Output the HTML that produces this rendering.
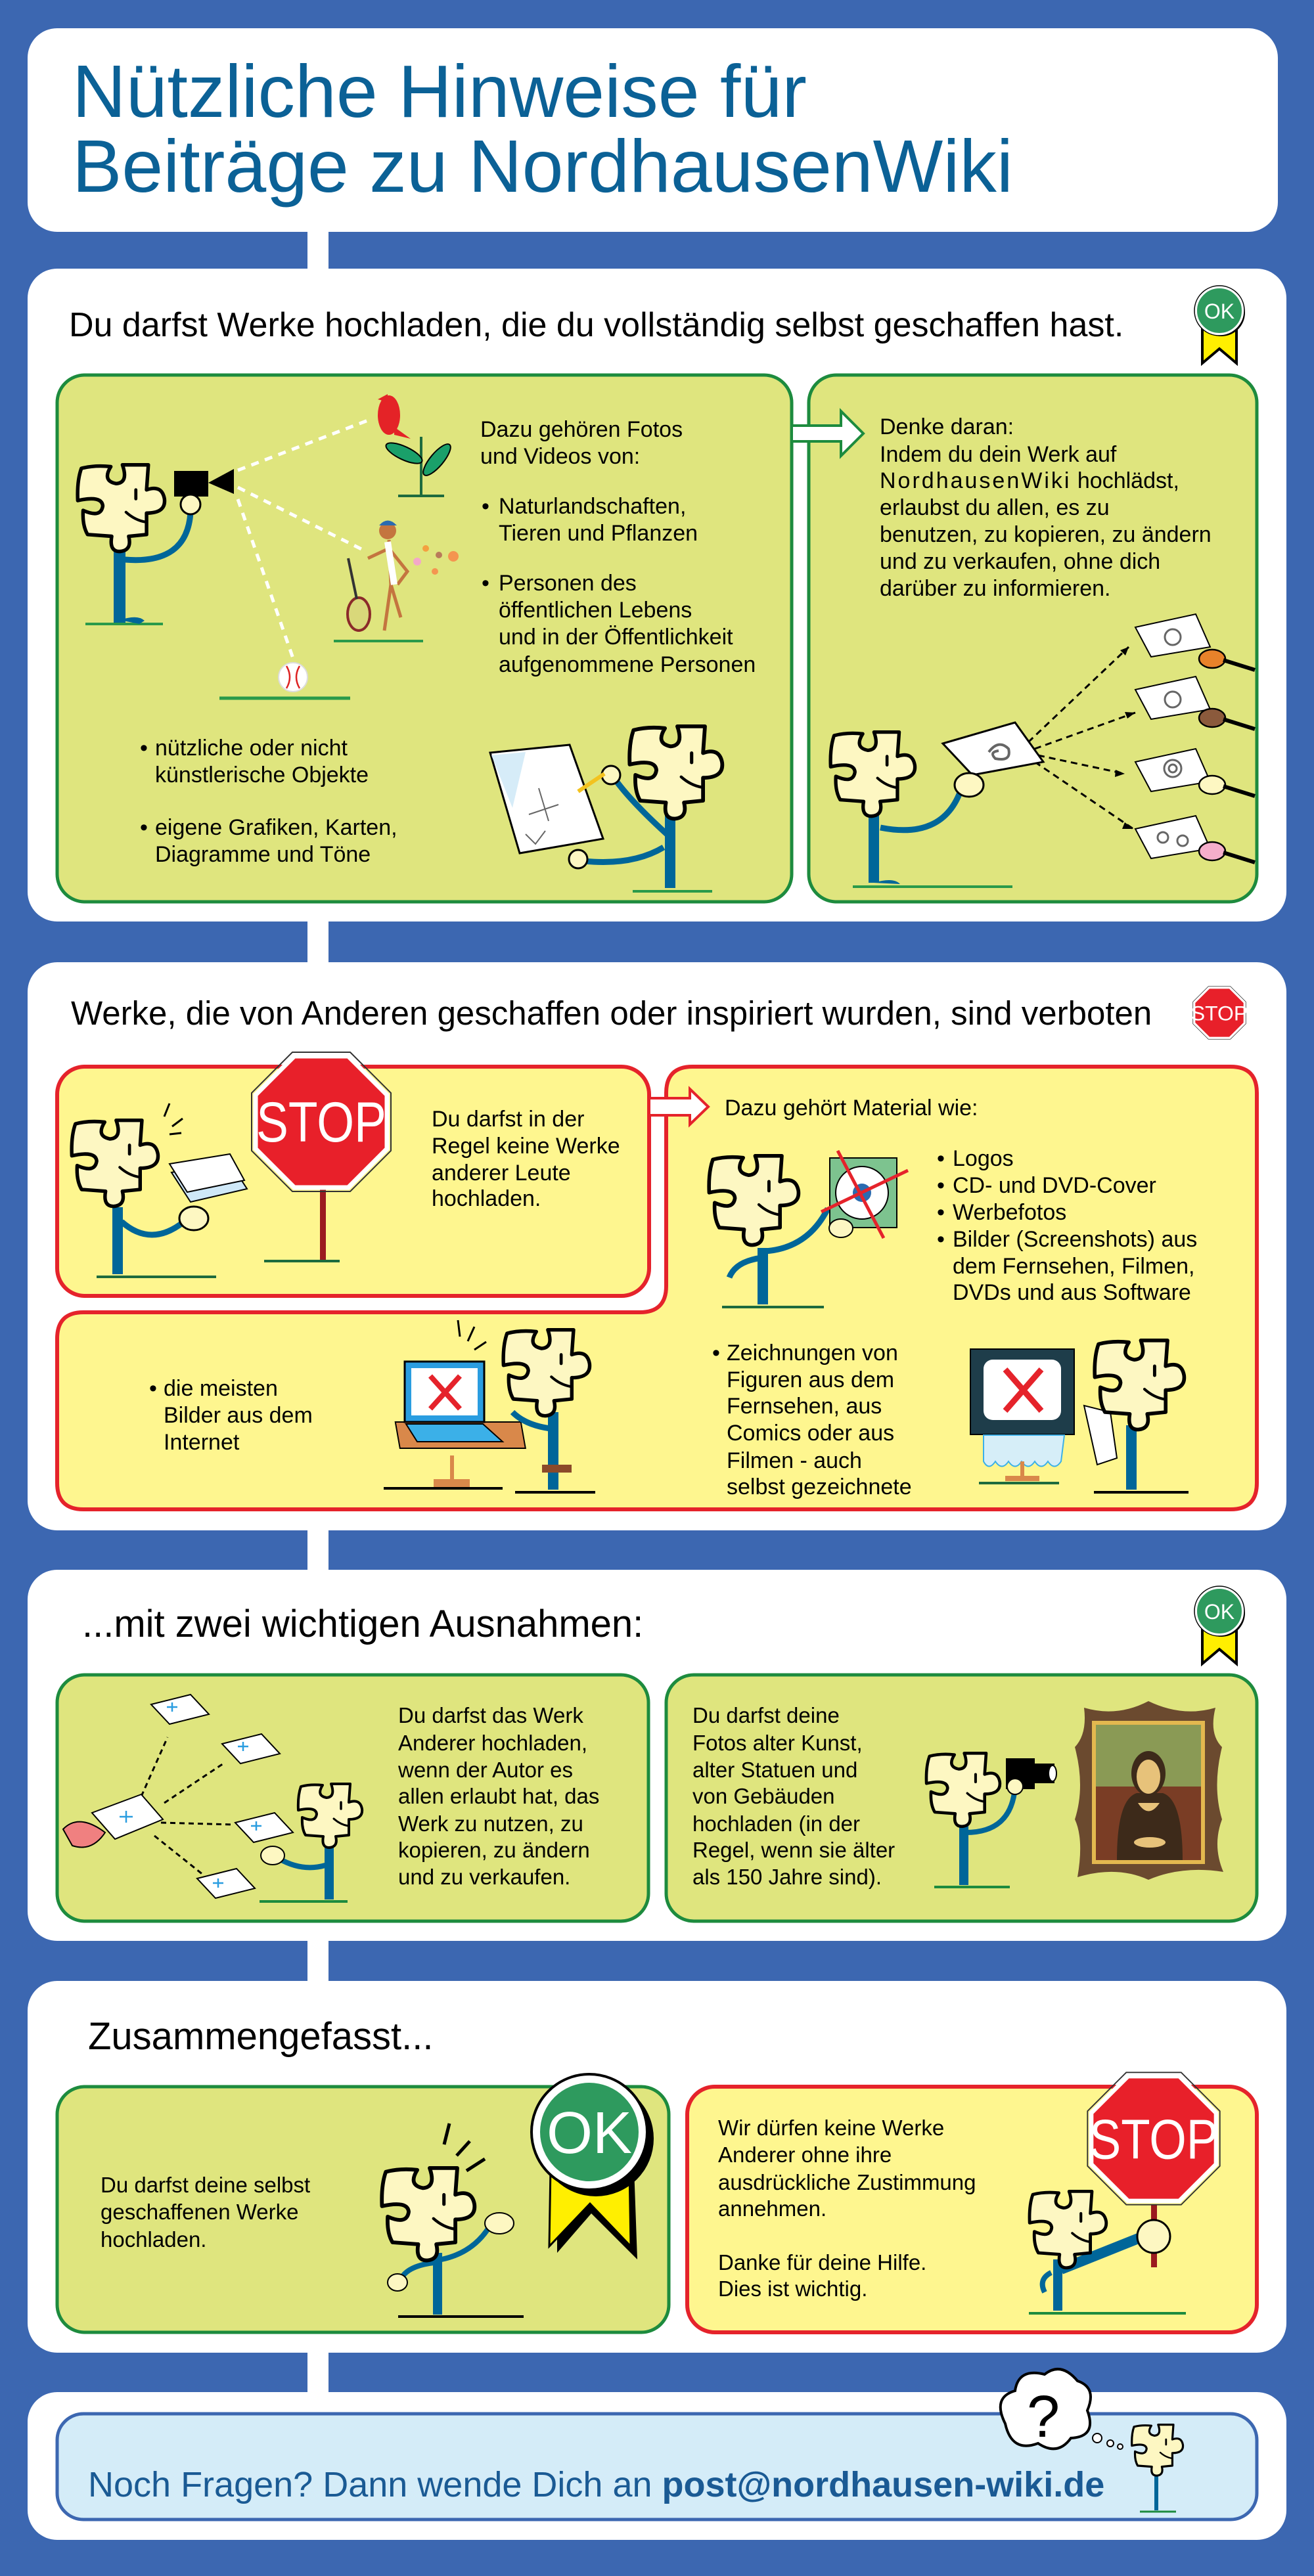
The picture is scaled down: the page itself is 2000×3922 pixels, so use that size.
<!DOCTYPE html>
<html><head><meta charset="utf-8"><style>
html,body{margin:0;padding:0;background:#3c67b1;}
svg{display:block;}
text{font-family:"Liberation Sans","DejaVu Sans",sans-serif;}
</style></head><body>
<svg width="2000" height="3922" viewBox="0 0 2000 3922" xmlns="http://www.w3.org/2000/svg">
<defs>
<g id="pz">
<path d="M5,6 Q20,2 38,4 Q28,20 44,23 Q58,22 51,2 L80,2 L78,30 Q95,24 98,40 Q100,56 78,56 L78,80 L58,82 Q62,98 48,99 Q36,99 39,82 L12,80 Q6,70 7,53 Q27,62 29,48 Q28,36 1,42 Q0,20 5,6 Z" fill="#fdf7c2" stroke="#000" stroke-width="4" stroke-linejoin="round"/>
<path d="M66,30 V40" stroke="#000" stroke-width="3.5" stroke-linecap="round"/>
<path d="M55,55 Q65,64 77,66" fill="none" stroke="#000" stroke-width="3" stroke-linecap="round"/>
</g>
<g id="ok">
<polygon points="-26,20 -26,80 0,58 26,80 26,20" fill="#ffef00" stroke="#000" stroke-width="4"/>
<circle cx="3" cy="3" r="36" fill="#000"/>
<circle r="36" fill="#2e9a5e" stroke="#fff" stroke-width="4"/>
<circle r="38" fill="none" stroke="#000" stroke-width="1.5"/>
<text x="0" y="12" font-size="32" fill="#fff" text-anchor="middle">OK</text>
</g>
<g id="oct">
<polygon points="-41,-100 41,-100 100,-41 100,41 41,100 -41,100 -100,41 -100,-41" fill="#e8202a" stroke="#fff" stroke-width="7"/>
<polygon points="-44,-106 44,-106 106,-44 106,44 44,106 -44,106 -106,44 -106,-44" fill="none" stroke="#333" stroke-width="2"/>
</g>
</defs>

<!-- Title panel -->
<rect x="42" y="43" width="1903" height="310" rx="45" fill="#fff"/>
<text x="110" y="178" font-size="113" fill="#0b6196">Nützliche Hinweise für</text>
<text x="110" y="292" font-size="113" fill="#0b6196">Beiträge zu NordhausenWiki</text>
<rect x="468" y="350" width="32" height="62" fill="#fff"/>

<!-- Section 1 -->
<rect x="42" y="409" width="1916" height="994" rx="45" fill="#fff"/>
<text x="105" y="512" font-size="52" fill="#000">Du darfst Werke hochladen, die du vollständig selbst geschaffen hast.</text>
<use href="#ok" transform="translate(1856,473)"/>
<rect x="87" y="571" width="1118" height="802" rx="42" fill="#dfe57e" stroke="#1d8b3e" stroke-width="5"/>
<rect x="1231" y="571" width="682" height="802" rx="42" fill="#dfe57e" stroke="#1d8b3e" stroke-width="5"/>
<polygon points="1205,648 1280,648 1280,626 1314,660 1280,694 1280,672 1205,672" fill="#fff" stroke="#1d8b3e" stroke-width="4"/>

<path d="M362,716 L560,640 M362,742 L550,836 M362,760 L447,1005" stroke="#fff" stroke-width="5" stroke-dasharray="12 10" fill="none"/>
<line x1="130" y1="950" x2="248" y2="950" stroke="#2a9a4a" stroke-width="4"/>
<path d="M182,840 V948" stroke="#006699" stroke-width="18"/>
<path d="M182,944 Q210,935 220,945 L212,950 Z" fill="#006699"/>
<path d="M190,852 Q285,860 290,780" fill="none" stroke="#006699" stroke-width="9"/>
<rect x="265" y="717" width="52" height="39" fill="#000"/>
<polygon points="317,735 356,714 356,752" fill="#000"/>
<circle cx="290" cy="768" r="15" fill="#fdf7c2" stroke="#000" stroke-width="3"/>
<use href="#pz" transform="translate(117,705) scale(1.36)"/>
<ellipse cx="592" cy="632" rx="17" ry="30" fill="#e42327"/>
<polygon points="590,600 575,608 590,612" fill="#e42327"/>
<polygon points="600,650 625,668 600,662" fill="#e42327"/>
<path d="M641,665 V755" stroke="#1d6b3e" stroke-width="4"/>
<ellipse cx="615" cy="690" rx="30" ry="10" fill="#1aa06a" stroke="#000" stroke-width="2" transform="rotate(25 615 690)"/>
<ellipse cx="665" cy="700" rx="30" ry="10" fill="#1aa06a" stroke="#000" stroke-width="2" transform="rotate(-50 665 700)"/>
<line x1="606" y1="755" x2="676" y2="755" stroke="#1d6b3e" stroke-width="4"/>
<circle cx="590" cy="808" r="13" fill="#c4753f"/>
<path d="M577,800 Q590,785 604,800 Z" fill="#2a6bb0"/>
<path d="M592,822 L595,890 L585,960 M595,890 L610,940 M592,835 L620,870 L605,890 M592,835 L560,850" stroke="#c4753f" stroke-width="5" fill="none"/>
<path d="M590,825 L600,890" stroke="#fff" stroke-width="10"/>
<ellipse cx="546" cy="935" rx="17" ry="25" fill="#d9d87a" stroke="#8b2a2a" stroke-width="4"/>
<line x1="530" y1="850" x2="543" y2="912" stroke="#333" stroke-width="4"/>
<circle cx="648" cy="835" r="5" fill="#f4a040"/><circle cx="668" cy="845" r="5" fill="#b97b5a"/><circle cx="635" cy="855" r="6" fill="#f3a9c8"/><circle cx="690" cy="847" r="8" fill="#f49550"/><circle cx="662" cy="870" r="5" fill="#f49550"/>
<line x1="508" y1="976" x2="644" y2="976" stroke="#2a9a4a" stroke-width="4"/>
<circle cx="446" cy="1031" r="22" fill="#fff" stroke="#ddd" stroke-width="2"/>
<path d="M436,1014 Q446,1031 436,1048 M456,1014 Q446,1031 456,1048" stroke="#d22" stroke-width="2.5" fill="none"/>
<line x1="334" y1="1063" x2="533" y2="1063" stroke="#2a9a4a" stroke-width="5"/>

<g font-size="34" fill="#000">
<text x="731" y="665">Dazu gehören Fotos</text>
<text x="731" y="706">und Videos von:</text>
<text x="733" y="782">•</text><text x="759" y="782">Naturlandschaften,</text>
<text x="759" y="823">Tieren und Pflanzen</text>
<text x="733" y="899">•</text><text x="759" y="899">Personen des</text>
<text x="759" y="940">öffentlichen Lebens</text>
<text x="759" y="981">und in der Öffentlichkeit</text>
<text x="759" y="1023">aufgenommene Personen</text>
<text x="213" y="1150">•</text><text x="236" y="1150">nützliche oder nicht</text>
<text x="236" y="1191">künstlerische Objekte</text>
<text x="213" y="1271">•</text><text x="236" y="1271">eigene Grafiken, Karten,</text>
<text x="236" y="1312">Diagramme und Töne</text>
</g>
<polygon points="746,1146 867,1134 918,1277 791,1299" fill="#fff" stroke="#000" stroke-width="3"/>
<polygon points="748,1150 800,1145 780,1230" fill="#d6ecf8"/>
<path d="M820,1200 L835,1250 M805,1240 L850,1225 M800,1270 L815,1285 L830,1265" stroke="#666" stroke-width="2" fill="none"/>
<line x1="963" y1="1357" x2="1084" y2="1357" stroke="#2a9a4a" stroke-width="4"/>
<path d="M1020,1240 V1352" stroke="#006699" stroke-width="16"/>
<path d="M1010,1290 Q960,1320 880,1310 M1015,1270 Q960,1220 935,1185" fill="none" stroke="#006699" stroke-width="9"/>
<circle cx="880" cy="1308" r="14" fill="#fdf7c2" stroke="#000" stroke-width="3"/>
<circle cx="930" cy="1180" r="14" fill="#fdf7c2" stroke="#000" stroke-width="3"/>
<line x1="920" y1="1178" x2="880" y2="1205" stroke="#f3c21e" stroke-width="6"/>
<use href="#pz" transform="translate(957,1103) scale(1.45)"/>

<g font-size="34" fill="#000">
<text x="1339" y="661">Denke daran:</text>
<text x="1339" y="703">Indem du dein Werk auf</text>
<text x="1339" y="743"><tspan letter-spacing="3">NordhausenWiki</tspan> hochlädst,</text>
<text x="1339" y="784">erlaubst du allen, es zu</text>
<text x="1339" y="825">benutzen, zu kopieren, zu ändern</text>
<text x="1339" y="866">und zu verkaufen, ohne dich</text>
<text x="1339" y="907">darüber zu informieren.</text>
</g>
<path d="M1565,1130 L1718,985 M1575,1140 L1728,1085 M1580,1150 L1712,1178 M1575,1160 L1725,1262" stroke="#000" stroke-width="3" stroke-dasharray="10 7"/>
<polygon points="1718,985 1705,990 1713,998" fill="#000"/><polygon points="1728,1085 1712,1084 1716,1094" fill="#000"/><polygon points="1712,1178 1698,1172 1697,1183" fill="#000"/><polygon points="1725,1262 1712,1252 1708,1262" fill="#000"/>
<polygon points="1728,955 1820,935 1842,985 1752,1000" fill="#fff" stroke="#000" stroke-width="2"/>
<polygon points="1728,1050 1820,1030 1842,1080 1752,1095" fill="#fff" stroke="#000" stroke-width="2"/>
<polygon points="1728,1160 1820,1140 1842,1190 1752,1205" fill="#fff" stroke="#000" stroke-width="2"/>
<polygon points="1728,1262 1820,1242 1842,1292 1752,1307" fill="#fff" stroke="#000" stroke-width="2"/>
<g fill="none" stroke="#666" stroke-width="3"><circle cx="1785" cy="970" r="12"/><circle cx="1785" cy="1065" r="12"/><circle cx="1785" cy="1170" r="13"/><circle cx="1785" cy="1170" r="6"/><circle cx="1770" cy="1275" r="8"/><circle cx="1800" cy="1280" r="8"/></g>
<g stroke="#000" stroke-width="2.5"><ellipse cx="1845" cy="1003" rx="20" ry="14" fill="#e8822a"/><ellipse cx="1845" cy="1093" rx="20" ry="14" fill="#8b5a3c"/><ellipse cx="1845" cy="1195" rx="20" ry="14" fill="#fdf7c2"/><ellipse cx="1845" cy="1296" rx="20" ry="14" fill="#f5aecb"/></g>
<g stroke="#000" stroke-width="6"><line x1="1862" y1="1005" x2="1910" y2="1020"/><line x1="1862" y1="1095" x2="1910" y2="1110"/><line x1="1862" y1="1197" x2="1910" y2="1212"/><line x1="1862" y1="1298" x2="1910" y2="1313"/></g>
<polygon points="1435,1132 1545,1100 1588,1160 1480,1180" fill="#fff" stroke="#000" stroke-width="3"/>
<path d="M1505,1145 q15,-20 30,-5 q5,20 -20,15 q-10,-10 5,-12" fill="none" stroke="#666" stroke-width="4"/>
<line x1="1298" y1="1350" x2="1541" y2="1350" stroke="#2a9a4a" stroke-width="4"/>
<path d="M1330,1238 V1344" stroke="#006699" stroke-width="16"/>
<path d="M1330,1344 Q1360,1335 1370,1346 Z" fill="#006699"/>
<path d="M1340,1260 Q1440,1280 1465,1195" fill="none" stroke="#006699" stroke-width="9"/>
<ellipse cx="1475" cy="1195" rx="22" ry="18" fill="#fdf7c2" stroke="#000" stroke-width="3"/>
<use href="#pz" transform="translate(1263,1112) scale(1.32)"/>
<rect x="468" y="1400" width="32" height="66" fill="#fff"/>

<!-- Section 2 -->
<rect x="42" y="1465" width="1916" height="865" rx="45" fill="#fff"/>
<text x="108" y="1560" font-size="51" fill="#000">Werke, die von Anderen geschaffen oder inspiriert wurden, sind verboten</text>
<g transform="translate(1856,1542) scale(0.38)"><use href="#oct"/><text x="0" y="30" font-size="84" fill="#fff" text-anchor="middle">STOP</text></g>
<rect x="87" y="1624" width="901" height="349" rx="42" fill="#fef68f" stroke="#e5232b" stroke-width="6"/>
<path d="M1054,1624 H1873 Q1913,1624 1913,1664 V2258 Q1913,2298 1873,2298 H127 Q87,2298 87,2258 V2038 Q87,1998 127,1998 H974 Q1014,1998 1014,1958 V1664 Q1014,1624 1054,1624 Z" fill="#fef68f" stroke="#e5232b" stroke-width="6"/>
<polygon points="988,1672 1050,1672 1050,1658 1078,1685 1050,1712 1050,1698 988,1698" fill="#fff" stroke="#e5232b" stroke-width="4"/>
<line x1="147" y1="1944" x2="329" y2="1944" stroke="#1d6b3e" stroke-width="4"/>
<path d="M179,1838 V1940" stroke="#006699" stroke-width="16"/>
<path d="M185,1860 Q230,1900 280,1860" fill="none" stroke="#006699" stroke-width="9"/>
<polygon points="261,1785 350,1770 376,1810 290,1830" fill="#cfe8f8" stroke="#000" stroke-width="2"/>
<polygon points="258,1772 350,1757 372,1797 285,1815" fill="#fff" stroke="#000" stroke-width="2"/>
<ellipse cx="295" cy="1855" rx="22" ry="18" fill="#fdf7c2" stroke="#000" stroke-width="3"/>
<path d="M250,1700 l8,-20 M262,1715 l16,-12 M258,1727 l18,-2" stroke="#000" stroke-width="3"/>
<use href="#pz" transform="translate(108,1703) scale(1.35)"/>
<rect x="487" y="1808" width="9" height="112" fill="#9b1b1f"/>
<line x1="402" y1="1920" x2="517" y2="1920" stroke="#1d6b3e" stroke-width="4"/>
<g transform="translate(489,1708)"><use href="#oct"/><text x="0" y="30" font-size="86" fill="#fff" text-anchor="middle" transform="scale(0.85,1)">STOP</text></g>
<g font-size="34" fill="#000">
<text x="657" y="1715">Du darfst in der</text>
<text x="657" y="1756">Regel keine Werke</text>
<text x="657" y="1797">anderer Leute</text>
<text x="657" y="1836">hochladen.</text>
<text x="1103" y="1698">Dazu gehört Material wie:</text>
<text x="1426" y="1775">•</text><text x="1450" y="1775">Logos</text>
<text x="1426" y="1816">•</text><text x="1450" y="1816">CD- und DVD-Cover</text>
<text x="1426" y="1857">•</text><text x="1450" y="1857">Werbefotos</text>
<text x="1426" y="1898">•</text><text x="1450" y="1898">Bilder (Screenshots) aus</text>
<text x="1450" y="1939">dem Fernsehen, Filmen,</text>
<text x="1450" y="1979">DVDs und aus Software</text>
<text x="227" y="2125">•</text><text x="249" y="2125">die meisten</text>
<text x="249" y="2166">Bilder aus dem</text>
<text x="249" y="2207">Internet</text>
<text x="1084" y="2071">•</text><text x="1106" y="2071">Zeichnungen von</text>
<text x="1106" y="2112">Figuren aus dem</text>
<text x="1106" y="2152">Fernsehen, aus</text>
<text x="1106" y="2193">Comics oder aus</text>
<text x="1106" y="2235">Filmen - auch</text>
<text x="1106" y="2275">selbst gezeichnete</text>
</g>
<line x1="1099" y1="1990" x2="1254" y2="1990" stroke="#1d6b3e" stroke-width="4"/>
<path d="M1161,1900 V1986" stroke="#006699" stroke-width="16"/>
<path d="M1165,1905 Q1230,1900 1260,1840 M1160,1915 Q1120,1920 1110,1945" fill="none" stroke="#006699" stroke-width="9"/>
<rect x="1263" y="1763" width="102" height="106" fill="#7dc38f" stroke="#000" stroke-width="2"/>
<circle cx="1312" cy="1816" r="40" fill="#fff" stroke="#000" stroke-width="2"/>
<circle cx="1312" cy="1816" r="14" fill="#2a6bb0"/>
<path d="M1275,1752 L1345,1885 M1250,1845 L1382,1782" stroke="#e5232b" stroke-width="5"/>
<ellipse cx="1280" cy="1870" rx="18" ry="14" fill="#fdf7c2" stroke="#000" stroke-width="2"/>
<use href="#pz" transform="translate(1078,1757) scale(1.4)"/>
<rect x="600" y="2165" width="191" height="40" fill="#d9884a" stroke="#000" stroke-width="2" transform="skewX(10) translate(-380,0)"/>
<rect x="616" y="2073" width="121" height="92" fill="#2a9de0" stroke="#000" stroke-width="3"/>
<rect x="626" y="2083" width="101" height="72" fill="#fff"/>
<path d="M655,2095 L700,2145 M700,2095 L655,2145" stroke="#e5232b" stroke-width="8"/>
<polygon points="618,2168 735,2168 765,2195 635,2195" fill="#3bb0e8" stroke="#000" stroke-width="2"/>
<rect x="685" y="2216" width="6" height="40" fill="#d9884a"/>
<rect x="660" y="2252" width="55" height="12" fill="#d9884a"/>
<line x1="584" y1="2266" x2="765" y2="2266" stroke="#000" stroke-width="4"/>
<path d="M842,2150 V2268" stroke="#006699" stroke-width="16"/>
<path d="M838,2175 Q800,2170 780,2150" fill="none" stroke="#006699" stroke-width="9"/>
<rect x="825" y="2230" width="45" height="12" fill="#8b4a2a"/>
<line x1="784" y1="2272" x2="906" y2="2272" stroke="#000" stroke-width="4"/>
<path d="M700,2035 l-3,-25 M712,2042 l10,-22 M722,2055 l18,-12" stroke="#000" stroke-width="3"/>
<use href="#pz" transform="translate(765,2022) scale(1.35)"/>
<rect x="1477" y="2054" width="158" height="130" fill="#1e3d4a" stroke="#000" stroke-width="2"/>
<rect x="1497" y="2070" width="118" height="92" rx="14" fill="#fff"/>
<path d="M1530,2085 L1585,2148 M1585,2085 L1530,2148" stroke="#e5232b" stroke-width="9"/>
<path d="M1497,2185 H1620 L1615,2225 Q1605,2240 1595,2225 Q1585,2240 1575,2225 Q1565,2240 1555,2225 Q1545,2240 1535,2225 Q1525,2240 1515,2225 Q1505,2240 1497,2225 Z" fill="#d6eef8" stroke="#3bb0e8" stroke-width="2"/>
<rect x="1553" y="2225" width="6" height="25" fill="#d9884a"/>
<rect x="1530" y="2247" width="52" height="8" fill="#d9884a"/>
<line x1="1490" y1="2258" x2="1612" y2="2258" stroke="#1d6b3e" stroke-width="4"/>
<polygon points="1650,2140 1690,2150 1700,2220 1670,2230" fill="#fff" stroke="#000" stroke-width="2"/>
<path d="M1722,2170 V2268" stroke="#006699" stroke-width="16"/>
<line x1="1665" y1="2272" x2="1809" y2="2272" stroke="#000" stroke-width="4"/>
<use href="#pz" transform="translate(1665,2038) scale(1.4)"/>
<rect x="468" y="2328" width="32" height="64" fill="#fff"/>

<!-- Section 3 -->
<rect x="42" y="2390" width="1916" height="565" rx="45" fill="#fff"/>
<text x="125" y="2492" font-size="58" fill="#000">...mit zwei wichtigen Ausnahmen:</text>
<use href="#ok" transform="translate(1856,2453)"/>
<rect x="87" y="2550" width="900" height="375" rx="42" fill="#dfe57e" stroke="#1d8b3e" stroke-width="5"/>
<rect x="1014" y="2550" width="899" height="375" rx="42" fill="#dfe57e" stroke="#1d8b3e" stroke-width="5"/>
<g font-size="33" fill="#000">
<text x="606" y="2623">Du darfst das Werk</text>
<text x="606" y="2665">Anderer hochladen,</text>
<text x="606" y="2706">wenn der Autor es</text>
<text x="606" y="2746">allen erlaubt hat, das</text>
<text x="606" y="2788">Werk zu nutzen, zu</text>
<text x="606" y="2828">kopieren, zu ändern</text>
<text x="606" y="2869">und zu verkaufen.</text>
<text x="1054" y="2623">Du darfst deine</text>
<text x="1054" y="2665">Fotos alter Kunst,</text>
<text x="1054" y="2706">alter Statuen und</text>
<text x="1054" y="2746">von Gebäuden</text>
<text x="1054" y="2788">hochladen (in der</text>
<text x="1054" y="2828">Regel, wenn sie älter</text>
<text x="1054" y="2869">als 150 Jahre sind).</text>
</g>
<path d="M215,2735 L255,2645 M250,2745 L340,2685 M245,2775 L355,2778 M235,2795 L310,2855" stroke="#000" stroke-width="3" stroke-dasharray="8 6"/>
<g fill="#fff" stroke="#000" stroke-width="2">
<polygon points="230,2595 290,2580 318,2610 258,2625"/>
<polygon points="338,2655 398,2640 426,2670 366,2685"/>
<polygon points="140,2760 215,2732 248,2770 175,2800"/>
<polygon points="358,2775 418,2760 446,2790 386,2805"/>
<polygon points="300,2860 360,2845 388,2875 328,2890"/>
</g>
<g stroke="#2a9de0" stroke-width="2.5" fill="none">
<path d="M262,2592 v14 m-8,-7 h16 M370,2652 v14 m-8,-7 h16 M192,2757 v18 m-10,-9 h20 M390,2773 v14 m-8,-7 h16 M332,2860 v14 m-8,-7 h16"/>
</g>
<path d="M96,2785 Q120,2760 160,2790 Q140,2820 110,2810 Z" fill="#f08080" stroke="#000" stroke-width="2"/>
<line x1="395" y1="2895" x2="529" y2="2895" stroke="#1d8b3e" stroke-width="4"/>
<path d="M501,2805 V2892" stroke="#006699" stroke-width="14"/>
<path d="M495,2840 Q460,2850 425,2830" fill="none" stroke="#006699" stroke-width="8"/>
<ellipse cx="415" cy="2825" rx="18" ry="14" fill="#fdf7c2" stroke="#000" stroke-width="2"/>
<use href="#pz" transform="translate(453,2714) scale(1.0)"/>
<line x1="1422" y1="2873" x2="1537" y2="2873" stroke="#1d8b3e" stroke-width="4"/>
<path d="M1467,2775 V2870" stroke="#006699" stroke-width="14"/>
<path d="M1470,2790 Q1540,2790 1545,2720" fill="none" stroke="#006699" stroke-width="8"/>
<rect x="1531" y="2677" width="44" height="47" fill="#000"/>
<rect x="1570" y="2685" width="35" height="30" fill="#000"/>
<ellipse cx="1602" cy="2700" rx="6" ry="12" fill="#fff" stroke="#000" stroke-width="2"/>
<circle cx="1545" cy="2720" r="12" fill="#fdf7c2" stroke="#000" stroke-width="2"/>
<use href="#pz" transform="translate(1409,2667) scale(1.15)"/>
<path d="M1650,2600 Q1700,2615 1748,2590 Q1800,2615 1850,2600 Q1840,2640 1860,2660 Q1845,2720 1860,2770 Q1845,2810 1862,2850 Q1800,2840 1748,2862 Q1700,2840 1640,2858 Q1650,2800 1636,2770 Q1652,2720 1636,2660 Q1655,2640 1650,2600 Z" fill="#6b4a2f"/>
<rect x="1662" y="2620" width="172" height="218" fill="#e3b84f"/>
<rect x="1668" y="2626" width="160" height="206" fill="#8a9a55"/>
<rect x="1668" y="2720" width="160" height="112" fill="#7a3d25"/>
<path d="M1700,2832 Q1700,2740 1730,2730 L1770,2730 Q1800,2740 1800,2832 Z" fill="#3d2a1a"/>
<ellipse cx="1748" cy="2700" rx="26" ry="34" fill="#3d2a1a"/>
<ellipse cx="1748" cy="2705" rx="18" ry="26" fill="#e7c27a"/>
<path d="M1732,2745 Q1748,2770 1765,2745 Z" fill="#e7c27a"/>
<ellipse cx="1750" cy="2805" rx="24" ry="8" fill="#e7c27a"/>
<rect x="468" y="2953" width="32" height="65" fill="#fff"/>

<!-- Section 4 -->
<rect x="42" y="3016" width="1916" height="566" rx="45" fill="#fff"/>
<text x="134" y="3120" font-size="58" fill="#000">Zusammengefasst...</text>
<rect x="87" y="3177" width="931" height="374" rx="42" fill="#dfe57e" stroke="#1d8b3e" stroke-width="5"/>
<rect x="1046" y="3177" width="867" height="374" rx="42" fill="#fef68f" stroke="#e5232b" stroke-width="6"/>
<g font-size="33" fill="#000">
<text x="153" y="3338">Du darfst deine selbst</text>
<text x="153" y="3379">geschaffenen Werke</text>
<text x="153" y="3421">hochladen.</text>
<text x="1093" y="3251">Wir dürfen keine Werke</text>
<text x="1093" y="3292">Anderer ohne ihre</text>
<text x="1093" y="3334">ausdrückliche Zustimmung</text>
<text x="1093" y="3374">annehmen.</text>
<text x="1093" y="3456">Danke für deine Hilfe.</text>
<text x="1093" y="3496">Dies ist wichtig.</text>
</g>
<polygon points="848,3300 848,3430 900,3370 970,3440 965,3300" fill="#000"/>
<polygon points="838,3300 836,3420 898,3355 960,3420 958,3300" fill="#ffef00" stroke="#000" stroke-width="3"/>
<circle cx="907" cy="3256" r="88" fill="#000"/>
<circle cx="897" cy="3246" r="88" fill="#fff" stroke="#000" stroke-width="4"/>
<circle cx="897" cy="3246" r="75" fill="#2e9a5e"/>
<text x="897" y="3278" font-size="90" fill="#fff" text-anchor="middle">OK</text>
<line x1="606" y1="3527" x2="797" y2="3527" stroke="#000" stroke-width="4"/>
<path d="M666,3430 V3524" stroke="#006699" stroke-width="14"/>
<path d="M672,3440 Q720,3430 745,3390 M660,3445 Q620,3450 610,3470" fill="none" stroke="#006699" stroke-width="8"/>
<ellipse cx="760" cy="3385" rx="22" ry="16" fill="#fdf7c2" stroke="#000" stroke-width="2"/>
<ellipse cx="605" cy="3475" rx="15" ry="13" fill="#fdf7c2" stroke="#000" stroke-width="2"/>
<path d="M676,3265 l8,-32 M695,3282 l20,-22 M710,3305 l28,-18" stroke="#000" stroke-width="5"/>
<use href="#pz" transform="translate(580,3298) scale(1.45)"/>
<rect x="1752" y="3357" width="9" height="95" fill="#9b1b1f"/>
<line x1="1566" y1="3522" x2="1805" y2="3522" stroke="#1d8b3e" stroke-width="4"/>
<path d="M1610,3440 V3518" stroke="#006699" stroke-width="14"/>
<path d="M1615,3455 L1740,3405" stroke="#006699" stroke-width="16"/>
<circle cx="1756" cy="3405" r="25" fill="#fdf7c2" stroke="#000" stroke-width="3"/>
<path d="M1600,3460 Q1580,3470 1590,3490" fill="none" stroke="#006699" stroke-width="8"/>
<use href="#pz" transform="translate(1566,3334) scale(1.2)"/>
<g transform="translate(1756,3256) scale(0.95)"><use href="#oct"/><text x="0" y="32" font-size="90" fill="#fff" text-anchor="middle" transform="scale(0.85,1)">STOP</text></g>
<rect x="468" y="3580" width="32" height="64" fill="#fff"/>

<!-- Section 5 -->
<rect x="42" y="3642" width="1916" height="225" rx="45" fill="#fff"/>
<rect x="87" y="3675" width="1826" height="161" rx="40" fill="#d4ecf8" stroke="#3c67b1" stroke-width="5"/>
<text x="134" y="3801" font-size="54" fill="#1a5a94">Noch Fragen? Dann wende Dich an <tspan font-weight="bold">post@nordhausen-wiki.de</tspan></text>
<path d="M1530,3690 Q1510,3650 1545,3640 Q1550,3605 1590,3615 Q1615,3595 1640,3625 Q1670,3635 1655,3670 Q1670,3710 1630,3712 Q1610,3740 1580,3720 Q1540,3735 1530,3690 Z" fill="#fff" stroke="#000" stroke-width="4"/>
<text x="1588" y="3710" font-size="90" fill="#000" text-anchor="middle">?</text>
<circle cx="1670" cy="3712" r="7" fill="#fff" stroke="#000" stroke-width="2"/><circle cx="1690" cy="3720" r="5" fill="#fff" stroke="#000" stroke-width="2"/><circle cx="1705" cy="3725" r="4" fill="#fff" stroke="#000" stroke-width="2"/>
<path d="M1760,3765 V3822" stroke="#006699" stroke-width="6"/>
<line x1="1735" y1="3824" x2="1790" y2="3824" stroke="#1d8b3e" stroke-width="3"/>
<use href="#pz" transform="translate(1722,3690) scale(0.8)"/>
</svg>
</body></html>
